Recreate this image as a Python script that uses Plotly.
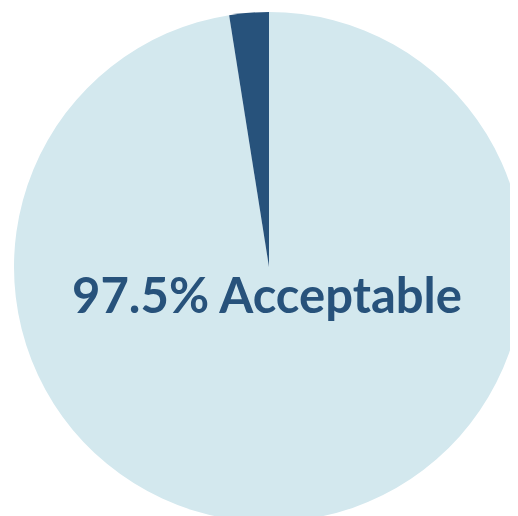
import plotly.graph_objects as go

labels = ["Acceptable", "Not acceptable"]
values = [97.5, 2.5]
colors = ["#d3e8ee", "#27527b"]
center_text = "97.5% Acceptable"

W, H = 518, 516
# pie centre (px, figure coordinates) and radius
cx, cy, r = 261, 259, 255
fig = go.Figure(go.Pie(
    labels=labels,
    values=values,
    sort=False,
    direction="clockwise",
    rotation=0,
    marker=dict(colors=colors, line=dict(width=0)),
    textinfo="none",
    hoverinfo="label+percent",
    showlegend=False,
    domain=dict(x=[(cx - r) / W, (cx + r) / W],
                y=[1 - (cy + r) / H, 1 - (cy - r) / H]),
))
fig.add_annotation(
    text=center_text, x=258.5 / W, y=1 - 286 / H, xref="paper", yref="paper",
    showarrow=False, xanchor="center", yanchor="middle",
    font=dict(family="Lato", size=49, color="#27527b", weight="bold"),
)
fig.update_layout(
    width=W, height=H, margin=dict(l=0, r=0, t=0, b=0),
    paper_bgcolor="white", plot_bgcolor="white",
)
fig.write_html("out.html")
